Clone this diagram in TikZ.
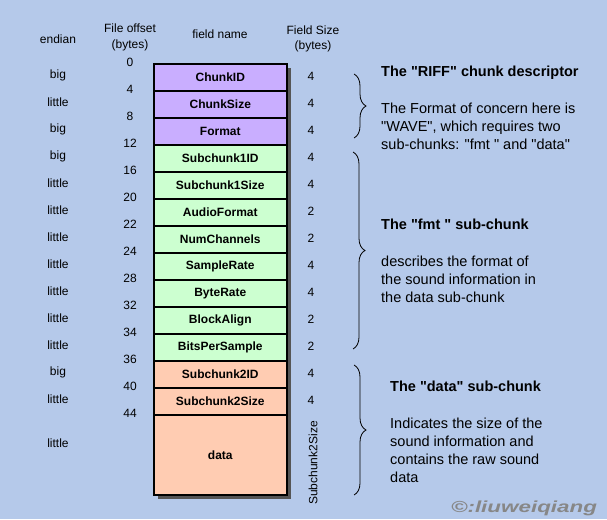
\documentclass[tikz,border=0pt]{standalone}
\usepackage{fontspec}
\setmainfont{Liberation Sans}[Ligatures=TeXOff]
\usetikzlibrary{decorations.pathreplacing}
\definecolor{bgblue}{RGB}{181,201,234}
\definecolor{riff}{RGB}{201,174,255}
\definecolor{fmtc}{RGB}{204,255,208}
\definecolor{datac}{RGB}{255,204,178}
\definecolor{shadowc}{RGB}{85,85,85}
\definecolor{wmark}{RGB}{135,135,135}
\tikzset{
 field/.style={draw=black, line width=1.6pt, minimum width=133pt, minimum height=27pt, anchor=north west, inner sep=0pt, font=\bfseries\fontsize{12}{14}\selectfont},
 lbl/.style={inner sep=0pt, font=\fontsize{12}{14}\selectfont},
 head/.style={inner sep=0pt, align=center, font=\fontsize{12}{15.5}\selectfont},
 titletext/.style={inner sep=0pt, anchor=base west, font=\bfseries\fontsize{14.5}{18}\selectfont},
 desc/.style={inner sep=0pt, anchor=base west, align=left, font=\fontsize{14.5}{18}\selectfont},
 bracec/.style={decorate, decoration={brace, amplitude=12pt}, line width=0.8pt}
}
\begin{document}
\begin{tikzpicture}[x=1pt,y=-1pt]
\fill[bgblue] (0,0) rectangle (607,519);
\useasboundingbox (0,0) rectangle (607,519);
% headers
\node[head] (hend) at (58,39) {endian};
\node[head] (hoff) at (130,37.5) {File offset\\(bytes)};
\node[head] (hname) at (220,34) {field name};
\node[head] (hsize) at (313,39) {Field Size\\(bytes)};
% shadow
\fill[shadowc] (158,68) rectangle (291,499);
% fields
\node[field, fill=riff] (f1) at (153,63) {ChunkID};
\node[field, fill=riff] (f2) at (153,90) {ChunkSize};
\node[field, fill=riff] (f3) at (153,117) {Format};
\node[field, fill=fmtc] (f4) at (153,144) {Subchunk1ID};
\node[field, fill=fmtc] (f5) at (153,171) {Subchunk1Size};
\node[field, fill=fmtc] (f6) at (153,198) {AudioFormat};
\node[field, fill=fmtc] (f7) at (153,225) {NumChannels};
\node[field, fill=fmtc] (f8) at (153,252) {SampleRate};
\node[field, fill=fmtc] (f9) at (153,279) {ByteRate};
\node[field, fill=fmtc] (f10) at (153,306) {BlockAlign};
\node[field, fill=fmtc] (f11) at (153,333) {BitsPerSample};
\node[field, fill=datac] (f12) at (153,360) {Subchunk2ID};
\node[field, fill=datac] (f13) at (153,387) {Subchunk2Size};
\node[field, fill=datac, minimum height=80pt] (f14) at (153,414) {data};
% endian
\foreach \i/\t/\y in {1/big/75.5,2/little/102.5,3/big/129.5,4/big/156.5,5/little/183.5,6/little/210.5,7/little/237.5,8/little/264.5,9/little/291.5,10/little/318.5,11/little/345.5,12/big/372.5,13/little/399.5,14/little/443}
  \node[lbl] (e\i) at (58,\y) {\t};
% offsets
\foreach \i/\t/\y in {1/0/63,2/4/90,3/8/117,4/12/144,5/16/171,6/20/198,7/22/225,8/24/252,9/28/279,10/32/306,11/34/333,12/36/360,13/40/387,14/44/414}
  \node[lbl] (o\i) at (130,\y-1) {\t};
% sizes
\foreach \i/\t/\y in {1/4/76.5,2/4/103.5,3/4/130.5,4/4/157.5,5/4/184.5,6/2/211.5,7/2/238.5,8/4/265.5,9/4/292.5,10/2/319.5,11/2/346.5,12/4/373.5,13/4/400.5}
  \node[lbl] (s\i) at (311,\y) {\t};
\node[lbl, rotate=90] (s14) at (313,463) {Subchunk2Size};
% braces
\coordinate (b1t) at (354,74);
\coordinate (b1b) at (354,138);
\coordinate (b2t) at (353,152);
\coordinate (b2b) at (353,349);
\coordinate (b3t) at (354,365);
\coordinate (b3b) at (354,495);
\draw[bracec] (b1t) -- (b1b);
\draw[bracec] (b2t) -- (b2b);
\draw[bracec] (b3t) -- (b3b);
% descriptions (base anchor = last line)
\node[titletext] (t1) at (381,77) {The "RIFF" chunk descriptor};
\node[desc] (d1) at (381,149) {The Format of concern here is\\"WAVE", which requires two\\sub-chunks: "fmt " and "data"};
\node[titletext] (t2) at (381,229) {The "fmt " sub-chunk};
\node[desc] (d2) at (381,302) {describes the format of\\the sound information in\\the data sub-chunk};
\node[titletext] (t3) at (390,391) {The "data" sub-chunk};
\node[desc] (d3) at (390,482) {Indicates the size of the\\sound information and\\contains the raw sound\\data};
% watermark
\node[inner sep=0pt, text=wmark, font=\bfseries\itshape\fontsize{16}{18}\selectfont] (wm) at (524,508) {\scalebox{1.4}[1]{©:liuweiqiang}};
\end{tikzpicture}
\end{document}
